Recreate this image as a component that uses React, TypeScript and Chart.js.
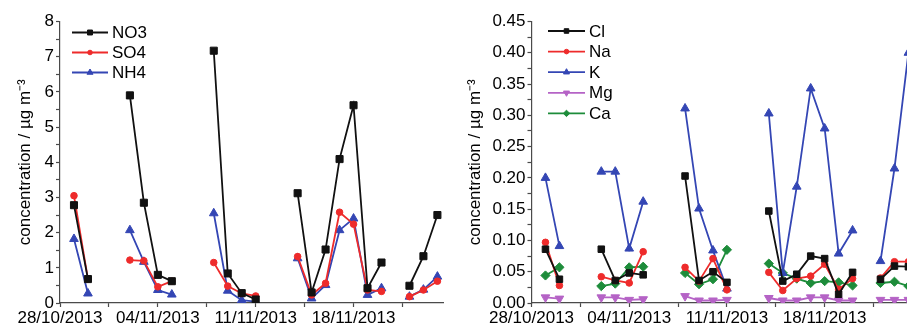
import React, { useEffect, useRef } from 'react';
import { Chart, registerables } from 'chart.js';
import { drawPoint } from 'chart.js/helpers';

Chart.register(...registerables);

const FONT = "'Liberation Sans', Arial, Helvetica, sans-serif";

// sampling day offsets from 28/10/2013 (entries with null values break the line)
const sampleDays = [1, 2, 3, 5, 6, 7, 8, 9, 11, 12, 13, 14, 15, 17, 18, 19, 20, 21, 22, 23, 24, 25, 26, 27];
const dateTickLabels = ['28/10/2013', '04/11/2013', '11/11/2013', '18/11/2013'];

// left panel
const no3 = [2.78, 0.68, null, 5.9, 2.85, 0.8, 0.62, null, 7.17, 0.84, 0.28, 0.1, null, 3.12, 0.3, 1.52, 4.09, 5.62, 0.42, 1.15, null, 0.49, 1.33, 2.5];
const so4 = [3.05, 0.68, null, 1.22, 1.2, 0.46, 0.62, null, 1.15, 0.48, 0.27, 0.2, null, 1.32, 0.23, 0.56, 2.58, 2.24, 0.37, 0.33, null, 0.18, 0.37, 0.62];
const nh4 = [1.82, 0.27, null, 2.07, 1.17, 0.37, 0.24, null, 2.55, 0.35, 0.08, 0.04, null, 1.27, 0.13, 0.51, 2.07, 2.4, 0.23, 0.42, null, 0.18, 0.38, 0.75];

// right panel
const cl = [0.086, 0.038, null, 0.086, 0.036, 0.048, 0.045, null, 0.203, 0.036, 0.05, 0.033, null, 0.147, 0.035, 0.046, 0.075, 0.071, 0.014, 0.049, null, 0.038, 0.059, 0.058];
const na = [0.097, 0.028, null, 0.042, 0.036, 0.032, 0.082, null, 0.057, 0.035, 0.071, 0.021, null, 0.049, 0.02, 0.039, 0.043, 0.062, 0.022, 0.039, null, 0.04, 0.066, 0.066];
const k = [0.2, 0.091, null, 0.21, 0.21, 0.087, 0.162, null, 0.311, 0.151, 0.084, 0.023, null, 0.303, 0.048, 0.186, 0.343, 0.279, 0.079, 0.116, null, 0.067, 0.215, 0.4];
const mg = [0.009, 0.007, null, 0.009, 0.009, 0.005, 0.006, null, 0.011, 0.004, 0.004, 0.005, null, 0.008, 0.004, 0.004, 0.009, 0.009, 0.004, 0.004, null, 0.005, 0.005, 0.005];
const ca = [0.044, 0.057, null, 0.027, 0.031, 0.057, 0.058, null, 0.048, 0.03, 0.038, 0.085, null, 0.063, 0.048, 0.039, 0.032, 0.035, 0.033, 0.028, null, 0.032, 0.034, 0.027];

const Y_TITLE = 'concentration / \u00b5g m\u207b\u00b3';
const AXIS_COLOR = '#4a4a4a';

const lineLegend = {
  id: 'lineLegend',
  afterDatasetsDraw(chart: any, _args: any, opts: any) {
    const { ctx, chartArea } = chart;
    const x0 = chartArea.left + opts.offsetX;
    let y = chartArea.top + opts.offsetY;
    ctx.save();
    chart.data.datasets.forEach((ds: any) => {
      ctx.strokeStyle = ds.borderColor;
      ctx.lineWidth = ds.borderWidth;
      ctx.beginPath();
      ctx.moveTo(x0, y);
      ctx.lineTo(x0 + opts.lineLen, y);
      ctx.stroke();
      ctx.fillStyle = ds.pointBackgroundColor;
      ctx.strokeStyle = ds.pointBorderColor;
      ctx.lineWidth = 1;
      drawPoint(ctx, {
        pointStyle: ds.pointStyle,
        rotation: ds.pointRotation || 0,
        radius: ds.pointRadius * 0.7,
        borderWidth: 1,
      } as any, x0 + opts.lineLen / 2, y);
      ctx.fillStyle = '#000';
      ctx.font = `17px ${FONT}`;
      ctx.textBaseline = 'middle';
      ctx.textAlign = 'left';
      ctx.fillText(ds.label, x0 + opts.lineLen + 4, y + 1);
      y += opts.rowHeight;
    });
    ctx.restore();
  },
};

function series(label: string, values: (number | null)[], color: string, pointStyle: string, radius: number, rotation = 0) {
  return {
    label,
    data: sampleDays.map((d, i) => ({ x: d, y: values[i] })),
    borderColor: color,
    backgroundColor: color,
    pointBackgroundColor: color,
    pointBorderColor: color,
    pointBorderWidth: 1,
    borderWidth: 1.8,
    pointStyle,
    pointRadius: radius,
    pointRotation: rotation,
    tension: 0,
    spanGaps: false,
  };
}

function makeConfig(datasets: any[], yMax: number, yStep: number, yLabel: (v: number) => string,
  yWidth: number, titlePad: number, padRight: number, legendOpts: any) {
  return {
    type: 'line',
    data: { datasets },
    plugins: [lineLegend],
    options: {
      animation: false,
      responsive: false,
      devicePixelRatio: 1,
      layout: { padding: { top: 21.5, right: padRight, bottom: 0, left: 0 } },
      plugins: {
        legend: { display: false },
        tooltip: { enabled: false },
        lineLegend: legendOpts,
      },
      scales: {
        x: {
          type: 'linear',
          min: 0,
          max: 27.4,
          afterFit: (s: any) => { s.height = 26; },
          grid: { drawOnChartArea: false, drawTicks: true, tickLength: 4, tickColor: AXIS_COLOR, tickWidth: 1.2 },
          border: { color: AXIS_COLOR, width: 1.2 },
          ticks: {
            stepSize: 3.5,
            includeBounds: false,
            autoSkip: false,
            maxRotation: 0,
            padding: 1,
            color: '#000',
            font: { family: FONT, size: 17 },
            callback: (v: number) => {
              const idx = v / 7;
              return Math.abs(idx - Math.round(idx)) < 1e-6 ? (dateTickLabels[Math.round(idx)] ?? '') : '';
            },
          },
        },
        y: {
          type: 'linear',
          min: 0,
          max: yMax,
          afterFit: (s: any) => { s.width = yWidth; },
          grid: { drawOnChartArea: false, drawTicks: true, tickLength: 4, tickColor: AXIS_COLOR, tickWidth: 1.2 },
          border: { color: AXIS_COLOR, width: 1.2 },
          title: {
            display: true,
            text: Y_TITLE,
            color: '#000',
            font: { family: FONT, size: 17 },
            padding: { top: titlePad, bottom: 0 },
          },
          ticks: {
            stepSize: yStep,
            autoSkip: false,
            padding: 2,
            color: '#000',
            font: { family: FONT, size: 17 },
            callback: yLabel,
          },
        },
      },
    },
  };
}

function ChartCanvas({ build, left, width }: { build: () => any; left: number; width: number }) {
  const ref = useRef<HTMLCanvasElement | null>(null);
  useEffect(() => {
    const chart = new Chart(ref.current as HTMLCanvasElement, build());
    return () => chart.destroy();
  }, []);
  return (
    <canvas
      ref={ref}
      width={width}
      height={329}
      style={{ position: 'absolute', left, top: 0, width, height: 329 }}
    />
  );
}

const BLACK = '#111111';
const RED = '#ee2b2b';
const BLUE = '#3446b4';
const PURPLE = '#b563c6';
const GREEN = '#1d8c3a';

export default function App() {
  const buildLeft = () =>
    makeConfig(
      [
        series('NO3', no3, BLACK, 'rect', 5),
        series('SO4', so4, RED, 'circle', 3.3),
        series('NH4', nh4, BLUE, 'triangle', 5),
      ],
      8,
      0.5,
      (v: number) => (Math.abs(v - Math.round(v)) < 1e-6 ? String(Math.round(v)) : ''),
      60,
      14.8,
      17,
      { offsetX: 12, offsetY: 11, rowHeight: 20, lineLen: 36 }
    );
  const buildRight = () =>
    makeConfig(
      [
        series('Cl', cl, BLACK, 'rect', 4.6),
        series('Na', na, RED, 'circle', 3.3),
        series('K', k, BLUE, 'triangle', 5),
        series('Mg', mg, PURPLE, 'triangle', 5, 180),
        series('Ca', ca, GREEN, 'rectRot', 4.6),
      ],
      0.45,
      0.025,
      (v: number) => (Math.round(v * 1000) % 50 === 0 ? v.toFixed(2) : ''),
      76.5,
      9.8,
      16,
      { offsetX: 16.5, offsetY: 9.5, rowHeight: 20.6, lineLen: 37 }
    );
  return (
    <div style={{ position: 'fixed', left: 0, top: 0, width: 907, height: 329, overflow: 'hidden', background: '#fff' }}>
      <ChartCanvas build={buildLeft} left={0} width={460} />
      <ChartCanvas build={buildRight} left={455} width={475} />
    </div>
  );
}
